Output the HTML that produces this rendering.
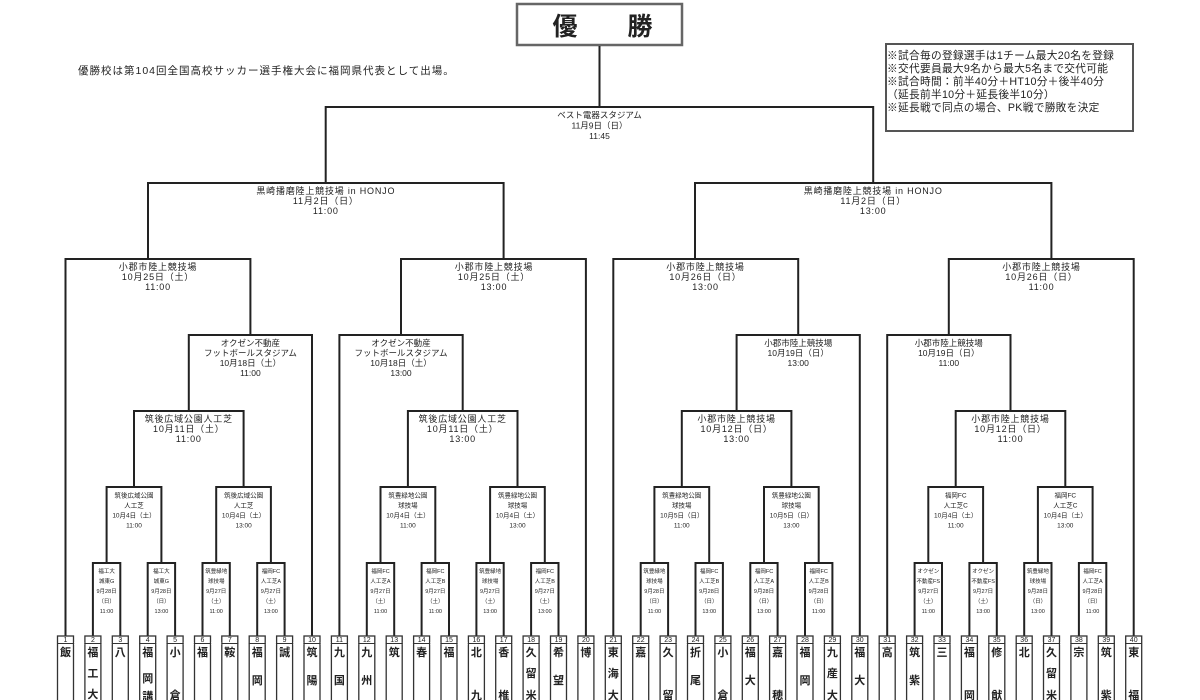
<!DOCTYPE html>
<html><head><meta charset="utf-8">
<style>
html,body{margin:0;padding:0;background:#fff;width:1200px;height:700px;overflow:hidden}
svg{display:block}
text{font-family:"Liberation Sans","Noto Sans CJK JP",sans-serif;fill:#222}
.l{fill:none;stroke:#222;stroke-width:2}
.a{font-size:9px;text-anchor:middle;letter-spacing:0.8px}
.b{font-size:8.5px;text-anchor:middle}
.c{font-size:6.5px;text-anchor:middle}
.d{font-size:5.5px;text-anchor:middle}
.n{font-size:7px;text-anchor:middle}
.t{font-size:11px;font-weight:bold;text-anchor:middle}
.bx{fill:#fff;stroke:#333;stroke-width:1.3}
.nt{font-size:10.7px;letter-spacing:0.3px}
</style></head><body>
<svg width="1200" height="700" viewBox="0 0 1200 700" xmlns="http://www.w3.org/2000/svg">
<rect x="517" y="4" width="165" height="41" fill="#fff" stroke="#666" stroke-width="2.5"/>
<text x="565" y="35" style="font-size:25px;font-weight:bold;text-anchor:middle">優</text>
<text x="640" y="35" style="font-size:25px;font-weight:bold;text-anchor:middle">勝</text>
<path class="l" d="M599.5 46 V107"/>
<text x="78" y="74" style="font-size:10.5px;letter-spacing:1px">優勝校は第104回全国高校サッカー選手権大会に福岡県代表として出場。</text>
<rect x="886" y="44" width="247" height="87" fill="#fff" stroke="#555" stroke-width="2"/>
<text class="nt" x="887" y="59">※試合毎の登録選手は1チーム最大20名を登録</text>
<text class="nt" x="887" y="72">※交代要員最大9名から最大5名まで交代可能</text>
<text class="nt" x="887" y="85">※試合時間：前半40分＋HT10分＋後半40分</text>
<text class="nt" x="887" y="98">（延長前半10分＋延長後半10分）</text>
<text class="nt" x="887" y="111">※延長戦で同点の場合、PK戦で勝敗を決定</text>

<path class="l" d="M325.7 183 V107 H873.2 V183"/>
<path class="l" d="M148 259 V183 H503.6 V259"/>
<path class="l" d="M695 259 V183 H1051.4 V259"/>
<path class="l" d="M65.5 636 V259 H250.4 V335"/>
<path class="l" d="M401 335 V259 H585.9 V636"/>
<path class="l" d="M613.3 636 V259 H798.2 V335"/>
<path class="l" d="M948.8 335 V259 H1133.7 V636"/>
<path class="l" d="M188.8 411 V335 H312 V636"/>
<path class="l" d="M339.4 636 V335 H462.7 V411"/>
<path class="l" d="M736.6 411 V335 H859.8 V636"/>
<path class="l" d="M887.2 636 V335 H1010.5 V411"/>
<path class="l" d="M134 487 V411 H243.6 V487"/>
<path class="l" d="M407.9 487 V411 H517.5 V487"/>
<path class="l" d="M681.8 487 V411 H791.4 V487"/>
<path class="l" d="M955.7 487 V411 H1065.3 V487"/>
<path class="l" d="M106.6 563 V487 H161.4 V563"/>
<path class="l" d="M216.2 563 V487 H270.9 V563"/>
<path class="l" d="M380.5 563 V487 H435.3 V563"/>
<path class="l" d="M490.1 563 V487 H544.8 V563"/>
<path class="l" d="M654.4 563 V487 H709.2 V563"/>
<path class="l" d="M764 563 V487 H818.7 V563"/>
<path class="l" d="M928.3 563 V487 H983.1 V563"/>
<path class="l" d="M1037.9 563 V487 H1092.6 V563"/>
<path class="l" d="M92.9 636 V563 H120.3 V636"/>
<path class="l" d="M147.7 636 V563 H175.1 V636"/>
<path class="l" d="M202.5 636 V563 H229.8 V636"/>
<path class="l" d="M257.2 636 V563 H284.6 V636"/>
<path class="l" d="M366.8 636 V563 H394.2 V636"/>
<path class="l" d="M421.6 636 V563 H449 V636"/>
<path class="l" d="M476.4 636 V563 H503.7 V636"/>
<path class="l" d="M531.1 636 V563 H558.5 V636"/>
<path class="l" d="M640.7 636 V563 H668.1 V636"/>
<path class="l" d="M695.5 636 V563 H722.9 V636"/>
<path class="l" d="M750.3 636 V563 H777.6 V636"/>
<path class="l" d="M805 636 V563 H832.4 V636"/>
<path class="l" d="M914.6 636 V563 H942 V636"/>
<path class="l" d="M969.4 636 V563 H996.8 V636"/>
<path class="l" d="M1024.2 636 V563 H1051.5 V636"/>
<path class="l" d="M1078.9 636 V563 H1106.3 V636"/>

<text class="b" x="599.5" y="118">ベスト電器スタジアム<tspan x="599.5" dy="10.5">11月9日（日）</tspan><tspan x="599.5" dy="10.5">11:45</tspan></text>
<text class="a" x="325.8" y="194">黒崎播磨陸上競技場 in HONJO<tspan x="325.8" dy="10">11月2日（日）</tspan><tspan x="325.8" dy="10">11:00</tspan></text>
<text class="a" x="873.2" y="194">黒崎播磨陸上競技場 in HONJO<tspan x="873.2" dy="10">11月2日（日）</tspan><tspan x="873.2" dy="10">13:00</tspan></text>
<text class="a" x="158" y="270">小郡市陸上競技場<tspan x="158" dy="10">10月25日（土）</tspan><tspan x="158" dy="10">11:00</tspan></text>
<text class="a" x="494" y="270">小郡市陸上競技場<tspan x="494" dy="10">10月25日（土）</tspan><tspan x="494" dy="10">13:00</tspan></text>
<text class="a" x="705.5" y="270">小郡市陸上競技場<tspan x="705.5" dy="10">10月26日（日）</tspan><tspan x="705.5" dy="10">13:00</tspan></text>
<text class="a" x="1041.5" y="270">小郡市陸上競技場<tspan x="1041.5" dy="10">10月26日（日）</tspan><tspan x="1041.5" dy="10">11:00</tspan></text>
<text class="b" x="250.4" y="346">オクゼン不動産<tspan x="250.4" dy="10">フットボールスタジアム</tspan><tspan x="250.4" dy="10">10月18日（土）</tspan><tspan x="250.4" dy="10">11:00</tspan></text>
<text class="b" x="401" y="346">オクゼン不動産<tspan x="401" dy="10">フットボールスタジアム</tspan><tspan x="401" dy="10">10月18日（土）</tspan><tspan x="401" dy="10">13:00</tspan></text>
<text class="b" x="798.2" y="346">小郡市陸上競技場<tspan x="798.2" dy="10">10月19日（日）</tspan><tspan x="798.2" dy="10">13:00</tspan></text>
<text class="b" x="948.8" y="346">小郡市陸上競技場<tspan x="948.8" dy="10">10月19日（日）</tspan><tspan x="948.8" dy="10">11:00</tspan></text>
<text class="a" x="188.8" y="422">筑後広域公園人工芝<tspan x="188.8" dy="10">10月11日（土）</tspan><tspan x="188.8" dy="10">11:00</tspan></text>
<text class="a" x="462.7" y="422">筑後広域公園人工芝<tspan x="462.7" dy="10">10月11日（土）</tspan><tspan x="462.7" dy="10">13:00</tspan></text>
<text class="a" x="736.6" y="422">小郡市陸上競技場<tspan x="736.6" dy="10">10月12日（日）</tspan><tspan x="736.6" dy="10">13:00</tspan></text>
<text class="a" x="1010.5" y="422">小郡市陸上競技場<tspan x="1010.5" dy="10">10月12日（日）</tspan><tspan x="1010.5" dy="10">11:00</tspan></text>
<text class="c" x="134" y="497.5">筑後広域公園<tspan x="134" dy="10">人工芝</tspan><tspan x="134" dy="10">10月4日（土）</tspan><tspan x="134" dy="10">11:00</tspan></text>
<text class="c" x="243.6" y="497.5">筑後広域公園<tspan x="243.6" dy="10">人工芝</tspan><tspan x="243.6" dy="10">10月4日（土）</tspan><tspan x="243.6" dy="10">13:00</tspan></text>
<text class="c" x="407.9" y="497.5">筑豊緑地公園<tspan x="407.9" dy="10">球技場</tspan><tspan x="407.9" dy="10">10月4日（土）</tspan><tspan x="407.9" dy="10">11:00</tspan></text>
<text class="c" x="517.5" y="497.5">筑豊緑地公園<tspan x="517.5" dy="10">球技場</tspan><tspan x="517.5" dy="10">10月4日（土）</tspan><tspan x="517.5" dy="10">13:00</tspan></text>
<text class="c" x="681.8" y="497.5">筑豊緑地公園<tspan x="681.8" dy="10">球技場</tspan><tspan x="681.8" dy="10">10月5日（日）</tspan><tspan x="681.8" dy="10">11:00</tspan></text>
<text class="c" x="791.4" y="497.5">筑豊緑地公園<tspan x="791.4" dy="10">球技場</tspan><tspan x="791.4" dy="10">10月5日（日）</tspan><tspan x="791.4" dy="10">13:00</tspan></text>
<text class="c" x="955.7" y="497.5">福岡FC<tspan x="955.7" dy="10">人工芝C</tspan><tspan x="955.7" dy="10">10月4日（土）</tspan><tspan x="955.7" dy="10">11:00</tspan></text>
<text class="c" x="1065.3" y="497.5">福岡FC<tspan x="1065.3" dy="10">人工芝C</tspan><tspan x="1065.3" dy="10">10月4日（土）</tspan><tspan x="1065.3" dy="10">13:00</tspan></text>
<text class="d" x="106.6" y="573">福工大<tspan x="106.6" dy="10">城東G</tspan><tspan x="106.6" dy="10">9月28日</tspan><tspan x="106.6" dy="10">（日）</tspan><tspan x="106.6" dy="10">11:00</tspan></text>
<text class="d" x="161.4" y="573">福工大<tspan x="161.4" dy="10">城東G</tspan><tspan x="161.4" dy="10">9月28日</tspan><tspan x="161.4" dy="10">（日）</tspan><tspan x="161.4" dy="10">13:00</tspan></text>
<text class="d" x="216.2" y="573">筑豊緑地<tspan x="216.2" dy="10">球技場</tspan><tspan x="216.2" dy="10">9月27日</tspan><tspan x="216.2" dy="10">（土）</tspan><tspan x="216.2" dy="10">11:00</tspan></text>
<text class="d" x="270.9" y="573">福岡FC<tspan x="270.9" dy="10">人工芝A</tspan><tspan x="270.9" dy="10">9月27日</tspan><tspan x="270.9" dy="10">（土）</tspan><tspan x="270.9" dy="10">13:00</tspan></text>
<text class="d" x="380.5" y="573">福岡FC<tspan x="380.5" dy="10">人工芝A</tspan><tspan x="380.5" dy="10">9月27日</tspan><tspan x="380.5" dy="10">（土）</tspan><tspan x="380.5" dy="10">11:00</tspan></text>
<text class="d" x="435.3" y="573">福岡FC<tspan x="435.3" dy="10">人工芝B</tspan><tspan x="435.3" dy="10">9月27日</tspan><tspan x="435.3" dy="10">（土）</tspan><tspan x="435.3" dy="10">11:00</tspan></text>
<text class="d" x="490.1" y="573">筑豊緑地<tspan x="490.1" dy="10">球技場</tspan><tspan x="490.1" dy="10">9月27日</tspan><tspan x="490.1" dy="10">（土）</tspan><tspan x="490.1" dy="10">13:00</tspan></text>
<text class="d" x="544.8" y="573">福岡FC<tspan x="544.8" dy="10">人工芝B</tspan><tspan x="544.8" dy="10">9月27日</tspan><tspan x="544.8" dy="10">（土）</tspan><tspan x="544.8" dy="10">13:00</tspan></text>
<text class="d" x="654.4" y="573">筑豊緑地<tspan x="654.4" dy="10">球技場</tspan><tspan x="654.4" dy="10">9月28日</tspan><tspan x="654.4" dy="10">（日）</tspan><tspan x="654.4" dy="10">11:00</tspan></text>
<text class="d" x="709.2" y="573">福岡FC<tspan x="709.2" dy="10">人工芝B</tspan><tspan x="709.2" dy="10">9月28日</tspan><tspan x="709.2" dy="10">（日）</tspan><tspan x="709.2" dy="10">13:00</tspan></text>
<text class="d" x="764" y="573">福岡FC<tspan x="764" dy="10">人工芝A</tspan><tspan x="764" dy="10">9月28日</tspan><tspan x="764" dy="10">（日）</tspan><tspan x="764" dy="10">13:00</tspan></text>
<text class="d" x="818.7" y="573">福岡FC<tspan x="818.7" dy="10">人工芝B</tspan><tspan x="818.7" dy="10">9月28日</tspan><tspan x="818.7" dy="10">（日）</tspan><tspan x="818.7" dy="10">11:00</tspan></text>
<text class="d" x="928.3" y="573">オクゼン<tspan x="928.3" dy="10">不動産FS</tspan><tspan x="928.3" dy="10">9月27日</tspan><tspan x="928.3" dy="10">（土）</tspan><tspan x="928.3" dy="10">11:00</tspan></text>
<text class="d" x="983.1" y="573">オクゼン<tspan x="983.1" dy="10">不動産FS</tspan><tspan x="983.1" dy="10">9月27日</tspan><tspan x="983.1" dy="10">（土）</tspan><tspan x="983.1" dy="10">13:00</tspan></text>
<text class="d" x="1037.9" y="573">筑豊緑地<tspan x="1037.9" dy="10">球技場</tspan><tspan x="1037.9" dy="10">9月28日</tspan><tspan x="1037.9" dy="10">（日）</tspan><tspan x="1037.9" dy="10">13:00</tspan></text>
<text class="d" x="1092.6" y="573">福岡FC<tspan x="1092.6" dy="10">人工芝A</tspan><tspan x="1092.6" dy="10">9月28日</tspan><tspan x="1092.6" dy="10">（日）</tspan><tspan x="1092.6" dy="10">11:00</tspan></text>

<g>
<rect class="bx" x="57.5" y="636" width="16" height="70"/><rect class="bx" x="84.9" y="636" width="16" height="70"/><rect class="bx" x="112.3" y="636" width="16" height="70"/><rect class="bx" x="139.7" y="636" width="16" height="70"/><rect class="bx" x="167.1" y="636" width="16" height="70"/><rect class="bx" x="194.5" y="636" width="16" height="70"/><rect class="bx" x="221.8" y="636" width="16" height="70"/><rect class="bx" x="249.2" y="636" width="16" height="70"/><rect class="bx" x="276.6" y="636" width="16" height="70"/><rect class="bx" x="304" y="636" width="16" height="70"/>
<rect class="bx" x="331.4" y="636" width="16" height="70"/><rect class="bx" x="358.8" y="636" width="16" height="70"/><rect class="bx" x="386.2" y="636" width="16" height="70"/><rect class="bx" x="413.6" y="636" width="16" height="70"/><rect class="bx" x="441" y="636" width="16" height="70"/><rect class="bx" x="468.4" y="636" width="16" height="70"/><rect class="bx" x="495.7" y="636" width="16" height="70"/><rect class="bx" x="523.1" y="636" width="16" height="70"/><rect class="bx" x="550.5" y="636" width="16" height="70"/><rect class="bx" x="577.9" y="636" width="16" height="70"/>
<rect class="bx" x="605.3" y="636" width="16" height="70"/><rect class="bx" x="632.7" y="636" width="16" height="70"/><rect class="bx" x="660.1" y="636" width="16" height="70"/><rect class="bx" x="687.5" y="636" width="16" height="70"/><rect class="bx" x="714.9" y="636" width="16" height="70"/><rect class="bx" x="742.3" y="636" width="16" height="70"/><rect class="bx" x="769.6" y="636" width="16" height="70"/><rect class="bx" x="797" y="636" width="16" height="70"/><rect class="bx" x="824.4" y="636" width="16" height="70"/><rect class="bx" x="851.8" y="636" width="16" height="70"/>
<rect class="bx" x="879.2" y="636" width="16" height="70"/><rect class="bx" x="906.6" y="636" width="16" height="70"/><rect class="bx" x="934" y="636" width="16" height="70"/><rect class="bx" x="961.4" y="636" width="16" height="70"/><rect class="bx" x="988.8" y="636" width="16" height="70"/><rect class="bx" x="1016.2" y="636" width="16" height="70"/><rect class="bx" x="1043.5" y="636" width="16" height="70"/><rect class="bx" x="1070.9" y="636" width="16" height="70"/><rect class="bx" x="1098.3" y="636" width="16" height="70"/><rect class="bx" x="1125.7" y="636" width="16" height="70"/>
</g>
<path d="M57 643.5 H1142" stroke="#333" stroke-width="1" fill="none"/>
<g fill="#fff">
<rect x="74.2" y="642" width="10" height="3"/><rect x="101.6" y="642" width="10" height="3"/><rect x="129" y="642" width="10" height="3"/><rect x="156.4" y="642" width="10" height="3"/><rect x="183.8" y="642" width="10" height="3"/><rect x="211.2" y="642" width="10" height="3"/><rect x="238.5" y="642" width="10" height="3"/><rect x="265.9" y="642" width="10" height="3"/><rect x="293.3" y="642" width="10" height="3"/><rect x="320.7" y="642" width="10" height="3"/>
<rect x="348.1" y="642" width="10" height="3"/><rect x="375.5" y="642" width="10" height="3"/><rect x="402.9" y="642" width="10" height="3"/><rect x="430.3" y="642" width="10" height="3"/><rect x="457.7" y="642" width="10" height="3"/><rect x="485.1" y="642" width="10" height="3"/><rect x="512.4" y="642" width="10" height="3"/><rect x="539.8" y="642" width="10" height="3"/><rect x="567.2" y="642" width="10" height="3"/><rect x="594.6" y="642" width="10" height="3"/>
<rect x="622" y="642" width="10" height="3"/><rect x="649.4" y="642" width="10" height="3"/><rect x="676.8" y="642" width="10" height="3"/><rect x="704.2" y="642" width="10" height="3"/><rect x="731.6" y="642" width="10" height="3"/><rect x="759" y="642" width="10" height="3"/><rect x="786.3" y="642" width="10" height="3"/><rect x="813.7" y="642" width="10" height="3"/><rect x="841.1" y="642" width="10" height="3"/><rect x="868.5" y="642" width="10" height="3"/>
<rect x="895.9" y="642" width="10" height="3"/><rect x="923.3" y="642" width="10" height="3"/><rect x="950.7" y="642" width="10" height="3"/><rect x="978.1" y="642" width="10" height="3"/><rect x="1005.5" y="642" width="10" height="3"/><rect x="1032.9" y="642" width="10" height="3"/><rect x="1060.2" y="642" width="10" height="3"/><rect x="1087.6" y="642" width="10" height="3"/><rect x="1115" y="642" width="10" height="3"/>
</g>
<g>
<text class="n" x="65.5" y="642">1</text><text class="n" x="92.9" y="642">2</text><text class="n" x="120.3" y="642">3</text><text class="n" x="147.7" y="642">4</text><text class="n" x="175.1" y="642">5</text><text class="n" x="202.5" y="642">6</text><text class="n" x="229.8" y="642">7</text><text class="n" x="257.2" y="642">8</text><text class="n" x="284.6" y="642">9</text><text class="n" x="312" y="642">10</text>
<text class="n" x="339.4" y="642">11</text><text class="n" x="366.8" y="642">12</text><text class="n" x="394.2" y="642">13</text><text class="n" x="421.6" y="642">14</text><text class="n" x="449" y="642">15</text><text class="n" x="476.4" y="642">16</text><text class="n" x="503.7" y="642">17</text><text class="n" x="531.1" y="642">18</text><text class="n" x="558.5" y="642">19</text><text class="n" x="585.9" y="642">20</text>
<text class="n" x="613.3" y="642">21</text><text class="n" x="640.7" y="642">22</text><text class="n" x="668.1" y="642">23</text><text class="n" x="695.5" y="642">24</text><text class="n" x="722.9" y="642">25</text><text class="n" x="750.3" y="642">26</text><text class="n" x="777.6" y="642">27</text><text class="n" x="805" y="642">28</text><text class="n" x="832.4" y="642">29</text><text class="n" x="859.8" y="642">30</text>
<text class="n" x="887.2" y="642">31</text><text class="n" x="914.6" y="642">32</text><text class="n" x="942" y="642">33</text><text class="n" x="969.4" y="642">34</text><text class="n" x="996.8" y="642">35</text><text class="n" x="1024.2" y="642">36</text><text class="n" x="1051.5" y="642">37</text><text class="n" x="1078.9" y="642">38</text><text class="n" x="1106.3" y="642">39</text><text class="n" x="1133.7" y="642">40</text>
</g>
<text class="t" x="65.5" y="656">飯</text>
<text class="t" x="92.9" y="656">福</text><text class="t" x="92.9" y="677">工</text><text class="t" x="92.9" y="698">大</text>
<text class="t" x="120.3" y="656">八</text>
<text class="t" x="147.7" y="656">福</text><text class="t" x="147.7" y="682">岡</text><text class="t" x="147.7" y="700">講</text>
<text class="t" x="175.1" y="656">小</text><text class="t" x="175.1" y="699">倉</text>
<text class="t" x="202.5" y="656">福</text>
<text class="t" x="229.8" y="656">鞍</text>
<text class="t" x="257.2" y="656">福</text><text class="t" x="257.2" y="684">岡</text>
<text class="t" x="284.6" y="656">誠</text>
<text class="t" x="312" y="656">筑</text><text class="t" x="312" y="684">陽</text>
<text class="t" x="339.4" y="656">九</text><text class="t" x="339.4" y="684">国</text>
<text class="t" x="366.8" y="656">九</text><text class="t" x="366.8" y="684">州</text>
<text class="t" x="394.2" y="656">筑</text>
<text class="t" x="421.6" y="656">春</text>
<text class="t" x="449" y="656">福</text>
<text class="t" x="476.4" y="656">北</text><text class="t" x="476.4" y="699">九</text>
<text class="t" x="503.7" y="656">香</text><text class="t" x="503.7" y="699">椎</text>
<text class="t" x="531.1" y="656">久</text><text class="t" x="531.1" y="677">留</text><text class="t" x="531.1" y="699">米</text>
<text class="t" x="558.5" y="656">希</text><text class="t" x="558.5" y="684">望</text>
<text class="t" x="585.9" y="656">博</text>
<text class="t" x="613.3" y="656">東</text><text class="t" x="613.3" y="677">海</text><text class="t" x="613.3" y="699">大</text>
<text class="t" x="640.7" y="656">嘉</text>
<text class="t" x="668.1" y="656">久</text><text class="t" x="668.1" y="699">留</text>
<text class="t" x="695.5" y="656">折</text><text class="t" x="695.5" y="684">尾</text>
<text class="t" x="722.9" y="656">小</text><text class="t" x="722.9" y="699">倉</text>
<text class="t" x="750.3" y="656">福</text><text class="t" x="750.3" y="684">大</text>
<text class="t" x="777.6" y="656">嘉</text><text class="t" x="777.6" y="699">穂</text>
<text class="t" x="805" y="656">福</text><text class="t" x="805" y="684">岡</text>
<text class="t" x="832.4" y="656">九</text><text class="t" x="832.4" y="677">産</text><text class="t" x="832.4" y="699">大</text>
<text class="t" x="859.8" y="656">福</text><text class="t" x="859.8" y="684">大</text>
<text class="t" x="887.2" y="656">高</text>
<text class="t" x="914.6" y="656">筑</text><text class="t" x="914.6" y="684">紫</text>
<text class="t" x="942" y="656">三</text>
<text class="t" x="969.4" y="656">福</text><text class="t" x="969.4" y="699">岡</text>
<text class="t" x="996.8" y="656">修</text><text class="t" x="996.8" y="699">猷</text>
<text class="t" x="1024.2" y="656">北</text>
<text class="t" x="1051.5" y="656">久</text><text class="t" x="1051.5" y="677">留</text><text class="t" x="1051.5" y="699">米</text>
<text class="t" x="1078.9" y="656">宗</text>
<text class="t" x="1106.3" y="656">筑</text><text class="t" x="1106.3" y="699">紫</text>
<text class="t" x="1133.7" y="656">東</text><text class="t" x="1133.7" y="699">福</text>
</svg>
</body></html>
